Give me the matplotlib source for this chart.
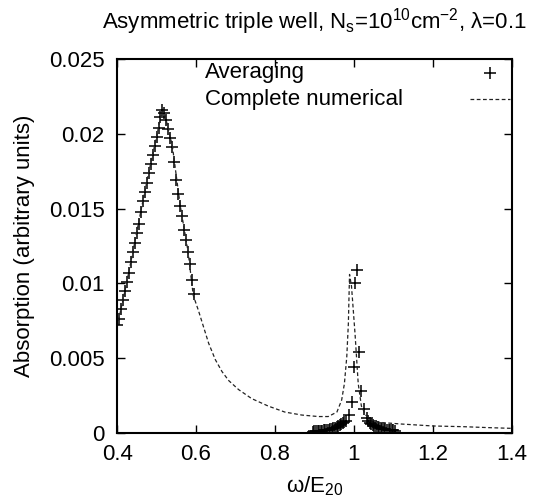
import matplotlib
matplotlib.use("Agg")
import matplotlib.pyplot as plt

plt.rcParams["font.family"] = ["Liberation Sans", "DejaVu Sans"]
plt.rcParams["mathtext.fontset"] = "custom"
plt.rcParams["mathtext.rm"] = "Liberation Sans"
plt.rcParams["mathtext.it"] = "Liberation Sans"

# averaging result (crosses)
avg_x = [0.400, 0.405, 0.410, 0.415, 0.420, 0.425, 0.430, 0.435, 0.440, 0.445,
         0.450, 0.455, 0.460, 0.465, 0.470, 0.475, 0.480, 0.485, 0.490, 0.495,
         0.500, 0.505, 0.510, 0.515, 0.520, 0.525, 0.530, 0.535, 0.540, 0.545,
         0.550, 0.555, 0.560, 0.565, 0.570, 0.575, 0.580, 0.585, 0.590, 0.595,
         0.896, 0.900, 0.904, 0.908, 0.912, 0.916, 0.920, 0.924, 0.928, 0.932,
         0.936, 0.940, 0.944, 0.948, 0.952, 0.956, 0.960, 0.964, 0.968, 0.972,
         0.976, 0.981, 0.987, 0.994, 1.000, 1.004, 1.009, 1.013, 1.019, 1.026,
         1.032, 1.036, 1.040, 1.044, 1.048, 1.052, 1.056, 1.060, 1.064, 1.068,
         1.072, 1.076, 1.080, 1.084, 1.088, 1.092, 1.096, 1.100, 1.104]
avg_y = [0.0072, 0.0076, 0.0083, 0.0089, 0.0095, 0.0101, 0.0107, 0.0114, 0.0121, 0.0127,
         0.0134, 0.0140, 0.0148, 0.0155, 0.0161, 0.0167, 0.0174, 0.0180, 0.0186, 0.0192,
         0.0198, 0.0204, 0.0211, 0.0216, 0.0214, 0.0209, 0.0203, 0.0197, 0.0191, 0.0181,
         0.0169, 0.0160, 0.0152, 0.0145, 0.0136, 0.0129, 0.0121, 0.0113, 0.0102, 0.0093,
         0.00010, 0.00011, 0.00012, 0.00013, 0.00014, 0.00015, 0.00016, 0.00018, 0.00019, 0.00021,
         0.00023, 0.00026, 0.00028, 0.00031, 0.00035, 0.00040, 0.00045, 0.00052, 0.00060, 0.00068,
         0.00072, 0.00078, 0.0012, 0.0021, 0.0044, 0.0100, 0.0109, 0.0054, 0.0028, 0.0016,
         0.0010, 0.0008, 0.0007, 0.0006, 0.00055, 0.0005, 0.00045, 0.0004, 0.00036, 0.00033,
         0.0003, 0.00027, 0.00025, 0.00023, 0.00021, 0.0002, 0.00018, 0.00017, 0.00016]

# complete numerical result (dashed line)
num_x = [0.40, 0.42, 0.44, 0.46, 0.48, 0.50, 0.51, 0.515, 0.52, 0.54, 0.56, 0.58,
         0.593, 0.606, 0.619, 0.632, 0.649, 0.666, 0.683, 0.708, 0.741, 0.783, 0.825,
         0.868, 0.910, 0.935, 0.957, 0.969, 0.976, 0.982, 0.986, 0.989, 0.994, 1.003,
         1.011, 1.019, 1.03, 1.05, 1.07, 1.12, 1.20, 1.28, 1.34, 1.40]
num_y = [0.0071, 0.0095, 0.0121, 0.0148, 0.0174, 0.0198, 0.0211, 0.0215, 0.0214, 0.0192, 0.0152, 0.0121,
         0.0092, 0.0082, 0.0071, 0.0060, 0.0049, 0.0041, 0.0035, 0.0029, 0.0023, 0.0018, 0.0014,
         0.0012, 0.0011, 0.0011, 0.0014, 0.0022, 0.0033, 0.0051, 0.0073, 0.0106, 0.0098, 0.0066,
         0.0033, 0.0018, 0.0012, 0.0008, 0.0007, 0.0006, 0.00047, 0.00042, 0.00036, 0.00031]

x_ticks = [0.4, 0.6, 0.8, 1.0, 1.2, 1.4]
x_tick_labels = ["0.4", "0.6", "0.8", "1", "1.2", "1.4"]
y_ticks = [0, 0.005, 0.01, 0.015, 0.02, 0.025]
y_tick_labels = ["0", "0.005", "0.01", "0.015", "0.02", "0.025"]
legend_labels = ["Averaging", "Complete numerical"]

fs = 16

fig = plt.figure(figsize=(5.37, 5.0), dpi=100)
ax = fig.add_axes([0.218, 0.134, 0.735, 0.748])

ax.plot(avg_x, avg_y, linestyle="none", marker="+", markersize=9,
        markeredgewidth=1.1, color="black")
ax.plot(num_x, num_y, linestyle=(0, (3, 2)), linewidth=0.9, color="#222222")

ax.set_xlim(0.4, 1.4)
ax.set_ylim(0, 0.025)
ax.set_xticks(x_ticks)
ax.set_xticklabels(x_tick_labels)
ax.set_yticks(y_ticks)
ax.set_yticklabels(y_tick_labels)
ax.tick_params(direction="in", length=6, width=1, top=True, right=True,
               labelsize=fs)
ax.tick_params(axis="x", pad=8)
ax.tick_params(axis="y", pad=9)
for s in ax.spines.values():
    s.set_linewidth(1.5)

ax.set_xlabel(r"$\omega$/E$_{20}$", fontsize=fs, labelpad=7)
ax.set_ylabel("Absorption (arbitrary units)", fontsize=fs, labelpad=10)
ax.set_title(r"Asymmetric triple well, N$_\mathrm{s}$=10$^{10}$cm$^{-2}$, $\lambda$=0.1",
             fontsize=fs, pad=22)

# gnuplot style key: text left aligned, sample at the right edge
ax.text(0.223, 0.963, legend_labels[0], transform=ax.transAxes,
        fontsize=fs, va="center", ha="left")
ax.text(0.223, 0.893, legend_labels[1], transform=ax.transAxes,
        fontsize=fs, va="center", ha="left")
ax.plot([0.944], [0.963], transform=ax.transAxes, linestyle="none",
        marker="+", markersize=9, markeredgewidth=1.1, color="black")
ax.plot([0.894, 0.995], [0.893, 0.893], transform=ax.transAxes,
        linestyle=(0, (3, 2)), linewidth=0.9, color="#222222")

fig.savefig("out.png", dpi=100)
